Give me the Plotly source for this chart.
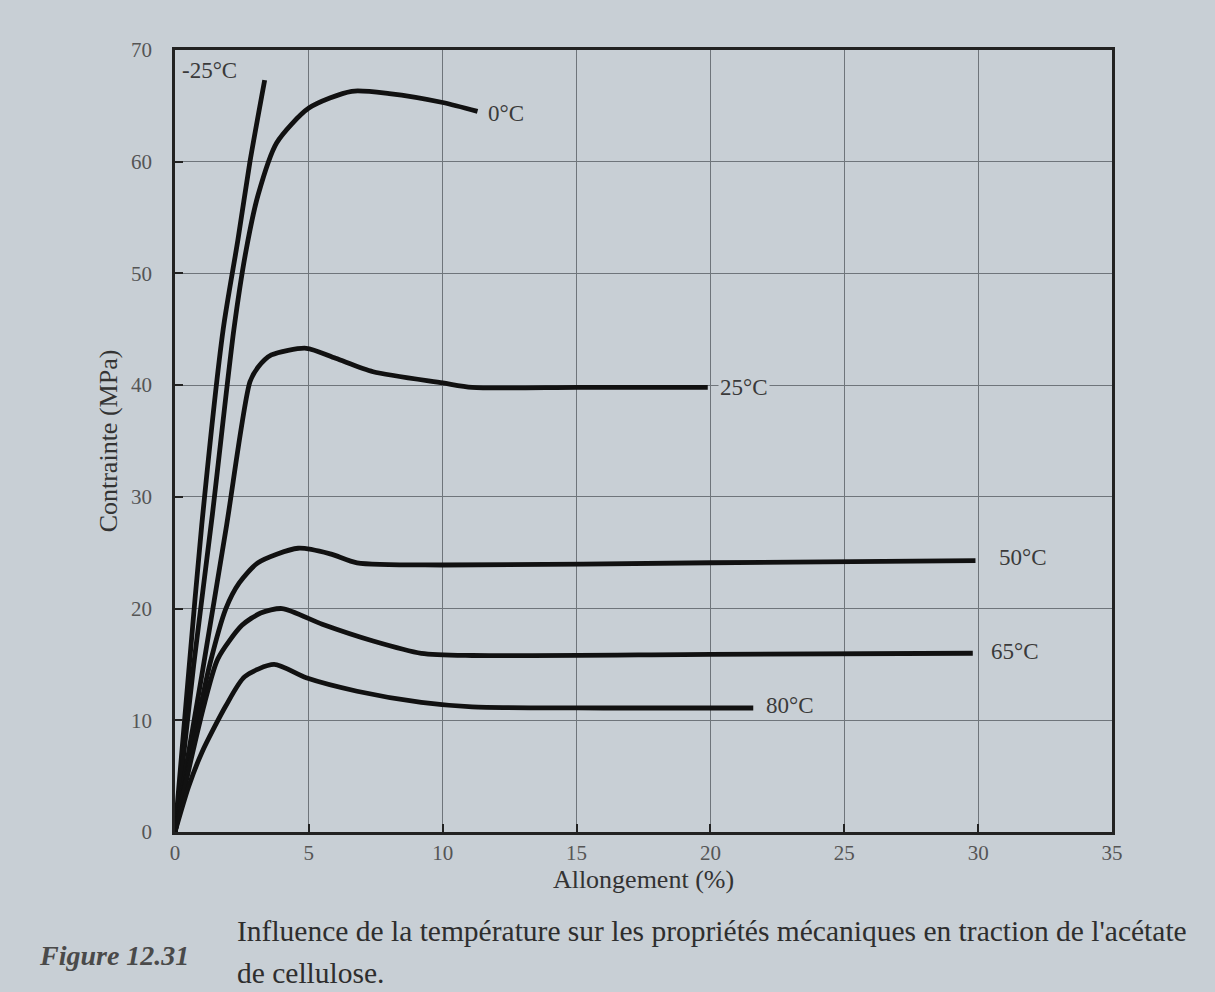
import plotly.graph_objects as go

# ---- data (Allongement %, Contrainte MPa) ----
temps = ["-25°C", "0°C", "25°C", "50°C", "65°C", "80°C"]

x_m25 = [0, 0.5, 1.0, 1.8, 2.35, 2.8, 3.35]
y_m25 = [0, 14, 27.5, 45, 53, 60, 67.3]

x_0 = [0, 0.7, 1.4, 2.2, 2.65, 3.1, 3.8, 5.0, 6.6, 8.0, 10.0, 11.3]
y_0 = [0, 15, 28.5, 45, 52, 57, 61.7, 64.8, 66.3, 66.1, 65.3, 64.5]

x_25 = [0, 1.0, 1.93, 2.8, 3.1, 3.6, 4.9, 6.0, 7.4, 10.0, 11.1, 15.0, 19.9]
y_25 = [0, 14, 27.5, 40.3, 41.6, 42.7, 43.3, 42.4, 41.2, 40.2, 39.8, 39.8, 39.8]

x_50 = [0, 0.85, 1.3, 1.9, 2.4, 3.1, 4.6, 5.8, 6.8, 10.0, 20.0, 29.9]
y_50 = [0, 10, 15, 20, 22.3, 24.1, 25.4, 24.9, 24.1, 23.9, 24.1, 24.3]

x_65 = [0, 0.6, 1.1, 1.6, 2.5, 3.2, 4.0, 5.5, 7.4, 9.2, 11.1, 20.0, 29.8]
y_65 = [0, 6.5, 11.5, 15.5, 18.5, 19.6, 20.0, 18.6, 17.1, 16.0, 15.8, 15.9, 16.0]

x_80 = [0, 0.5, 1.0, 1.9, 2.6, 3.7, 4.9, 6.8, 9.2, 11.1, 16.0, 21.6]
y_80 = [0, 4, 7.1, 11.3, 13.9, 15.0, 13.8, 12.6, 11.6, 11.2, 11.1, 11.1]

# label anchor positions (data coords)
label_x = [1.3, 11.6, 20.3, 30.7, 30.4, 22.0]
label_y = [68.2, 64.3, 39.8, 24.6, 16.2, 11.3]

x_ticks = [0, 5, 10, 15, 20, 25, 30, 35]
y_ticks = [0, 10, 20, 30, 40, 50, 60, 70]

series = [(x_m25, y_m25), (x_0, y_0), (x_25, y_25), (x_50, y_50), (x_65, y_65), (x_80, y_80)]

PAPER = "#c8cfd5"
SERIF = "Liberation Serif, DejaVu Serif, serif"

fig = go.Figure()
for name, (xs, ys) in zip(temps, series):
    fig.add_trace(go.Scatter(
        x=xs, y=ys, mode="lines", name=name,
        line=dict(color="#111111", width=4.8, shape="spline", smoothing=0.7),
        showlegend=False, hoverinfo="x+y+name",
    ))

for name, lx, ly in zip(temps, label_x, label_y):
    fig.add_annotation(
        x=lx, y=ly, text=name, showarrow=False,
        xanchor="left" if name != "-25°C" else "center",
        font=dict(family=SERIF, size=23, color="#3a3a3a"),
        bgcolor=PAPER, borderpad=1,
    )

# caption
fig.add_annotation(
    xref="paper", yref="paper", x=-0.147, y=-0.158, xanchor="left", yanchor="middle",
    text="<b><i>Figure 12.31</i></b>", showarrow=False,
    font=dict(family=SERIF, size=28, color="#4a4a4a"),
)
fig.add_annotation(
    xref="paper", yref="paper", x=0.064, y=-0.126, xanchor="left", yanchor="middle",
    text="Influence de la température sur les propriétés mécaniques en traction de l'acétate",
    showarrow=False, font=dict(family=SERIF, size=29.5, color="#2e2e2e"),
)
fig.add_annotation(
    xref="paper", yref="paper", x=0.064, y=-0.18, xanchor="left", yanchor="middle",
    text="de cellulose.", showarrow=False,
    font=dict(family=SERIF, size=29.5, color="#2e2e2e"),
)

axis_common = dict(
    showgrid=True, gridcolor="#6f757b", gridwidth=1,
    showline=True, linecolor="#222222", linewidth=2.5, mirror=True,
    ticks="inside", ticklen=8, tickcolor="#222222", tickwidth=2,
    zeroline=False,
    tickfont=dict(family=SERIF, size=21, color="#555555"),
    title_font=dict(family=SERIF, size=26, color="#333333"),
)

fig.update_xaxes(
    range=[0, 35], tickvals=x_ticks, ticktext=[str(v) for v in x_ticks],
    title_text="Allongement (%)", title_standoff=0, ticklabelstandoff=0, **axis_common,
)
fig.update_yaxes(
    range=[0, 70], tickvals=y_ticks, ticktext=[str(v) for v in y_ticks],
    title_text="Contrainte (MPa)", title_standoff=6, ticklabelstandoff=16, **axis_common,
)

fig.update_layout(
    width=1215, height=992,
    margin=dict(l=175, r=103, t=50, b=160),
    paper_bgcolor=PAPER, plot_bgcolor=PAPER,
)

fig.write_html(
    "out.html",
    config={"displayModeBar": False},
    post_script="document.body.style.margin='0';document.body.style.overflow='hidden';"
                "document.body.style.background='" + PAPER + "';",
)
